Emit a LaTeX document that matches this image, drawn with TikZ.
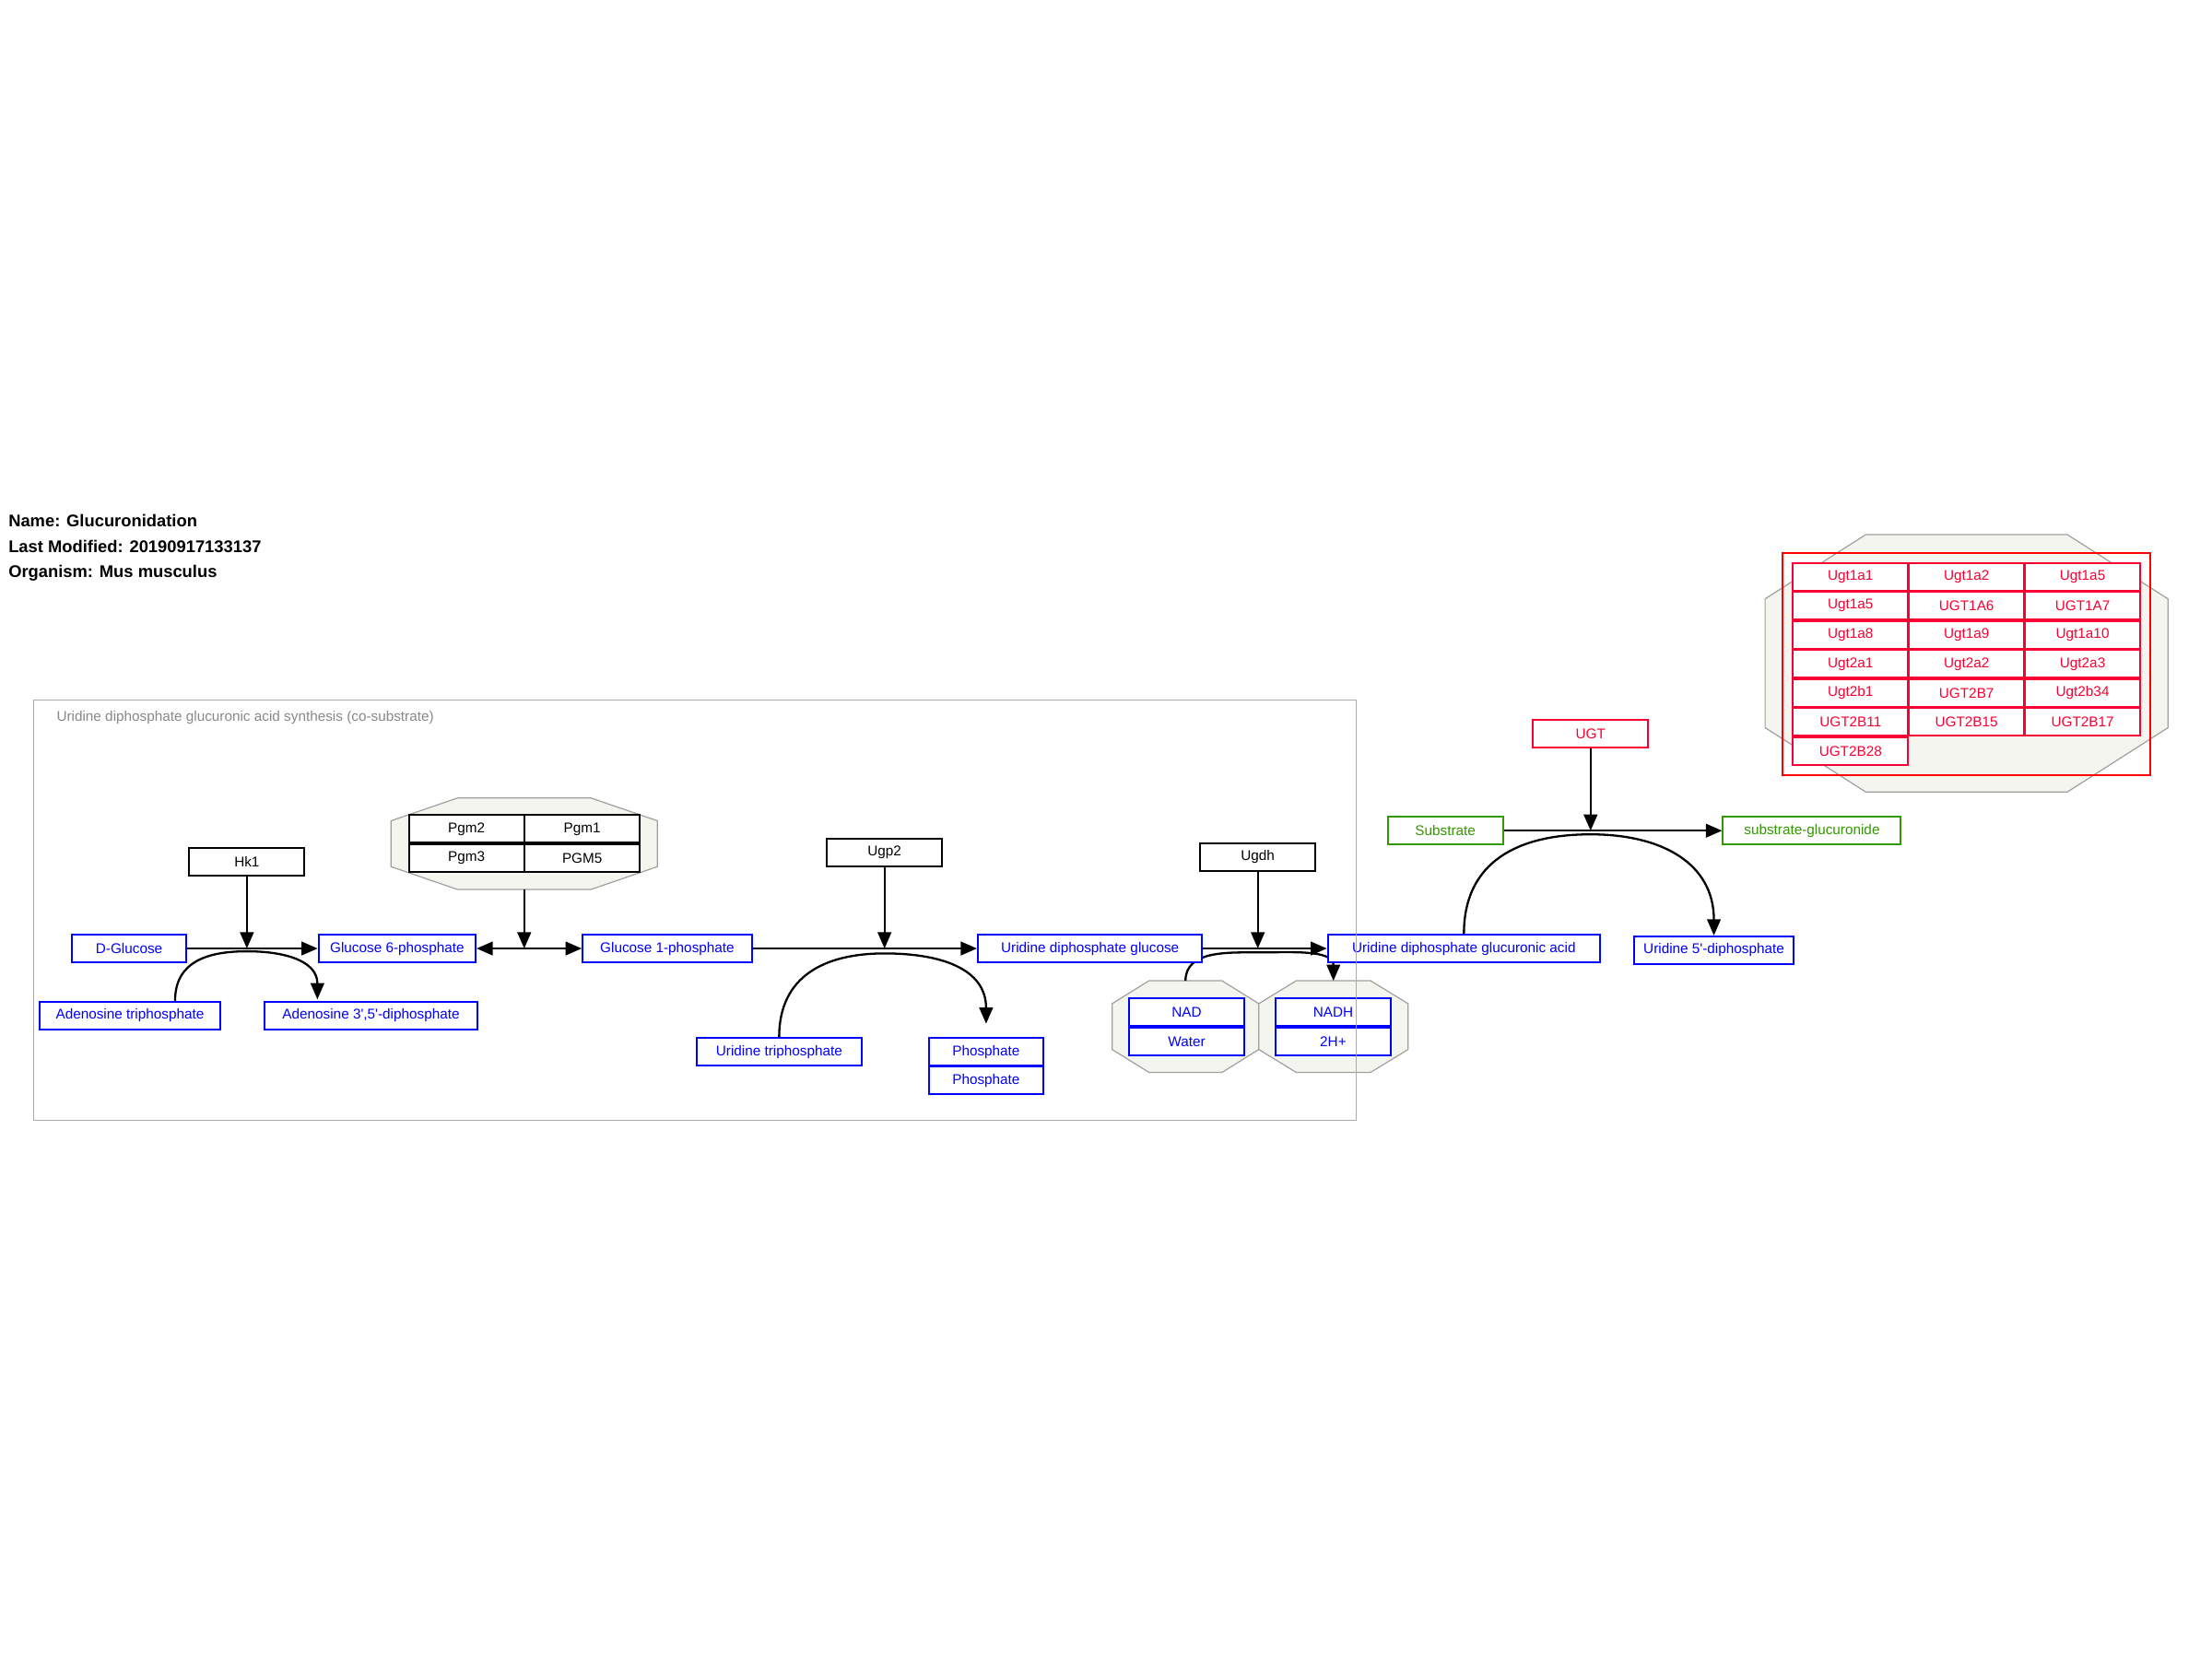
\documentclass[tikz,border=0pt]{standalone}
\usepackage{fontspec}
\setmainfont{Liberation Sans}
\usetikzlibrary{arrows.meta,backgrounds}
\definecolor{metblue}{RGB}{0,0,255}
\definecolor{subgreen}{RGB}{51,153,0}
\definecolor{ugtred}{RGB}{250,0,50}
\definecolor{cplxfill}{RGB}{245,245,239}
\definecolor{cplxline}{RGB}{160,160,160}
\definecolor{framegray}{RGB}{170,170,170}
\definecolor{labelgray}{RGB}{136,136,136}
\newcommand{\cplxoct}[3]{%
  \draw[cplx] ([xshift=#2]#1.north west) -- ([xshift=-#2]#1.north east)
    -- ([yshift=-#3]#1.north east) -- ([yshift=#3]#1.south east)
    -- ([xshift=-#2]#1.south east) -- ([xshift=#2]#1.south west)
    -- ([yshift=#3]#1.south west) -- ([yshift=-#3]#1.north west) -- cycle;}
\begin{document}
\begin{tikzpicture}[x=1pt, y=-1pt, line width=1.3pt,
  entity/.style = {draw, fill=white, inner sep=0pt, minimum width=81.5pt, minimum height=19.6pt, font=\fontsize{10}{12}\selectfont},
  metab/.style = {entity, draw=metblue, text=metblue},
  gene/.style = {entity, draw=black, text=black},
  subst/.style = {entity, draw=subgreen, text=subgreen},
  ugt/.style = {entity, draw=ugtred, text=ugtred},
  cplxarea/.style = {inner sep=0pt, outer sep=0pt},
  cplx/.style = {draw=cplxline, fill=cplxfill, line width=0.8pt},
  conv/.style = {line width=1.5pt, -{Triangle[length=11.5pt,width=9.6pt]}},
  bothconv/.style = {line width=1.5pt, {Triangle[length=11.5pt,width=9.6pt]}-{Triangle[length=11.5pt,width=9.6pt]}},
  info/.style = {anchor=west, inner sep=0pt, font=\bfseries\fontsize{12}{14}\selectfont}]
\useasboundingbox (0,0) rectangle (1568,1176);
\node[info] (name) at (5.4,369) {Name: Glucuronidation};
\node[info] (lastmod) at (5.4,387.5) {Last Modified: 20190917133137};
\node[info] (organism) at (5.4,406) {Organism: Mus musculus};
\node[metab] (dglc) at (91.5,672.3) {D-Glucose};
\node[metab, minimum width=111.3pt, node distance=190pt] (g6p) [right of=dglc] {Glucose 6-phosphate};
\node[metab, minimum width=120pt, node distance=191.5pt] (g1p) [right of=g6p] {Glucose 1-phosphate};
\node[metab, minimum width=159pt, node distance=299.7pt] (udpg) [right of=g1p] {Uridine diphosphate glucose};
\node[metab, minimum width=193pt, node distance=265pt] (udpga) [right of=udpg] {Uridine diphosphate glucuronic acid};
\node[metab, minimum width=112.6pt] (u5dp) at (1214.9,673.5) {Uridine 5\textquotesingle-diphosphate};
\node[metab, minimum width=127.6pt] (atp) at (92.1,719.8) {Adenosine triphosphate};
\node[metab, minimum width=150.5pt] (adp) at (263,719.8) {Adenosine 3\textquotesingle,5\textquotesingle-diphosphate};
\node[metab, minimum width=117.2pt] (utp) at (552.3,745.5) {Uridine triphosphate};
\node[metab] (phos1) at (699,745.5) {Phosphate};
\node[metab, node distance=20.5pt] (phos2) [below of=phos1] {Phosphate};
\node[gene] (hk1) at (175,610.6) {Hk1};
\node[gene] (ugp2) at (627,604.4) {Ugp2};
\node[gene] (ugdh) at (891.6,607.5) {Ugdh};
\node[cplxarea, minimum width=188.8pt, minimum height=64.9pt] (pgmcx) at (371.6,598.05) {};
\node[gene] (pgm2) at (330.7,587.6) {Pgm2};
\node[gene, node distance=82pt] (pgm1) [right of=pgm2] {Pgm1};
\node[gene, node distance=20.8pt] (pgm3) [below of=pgm2] {Pgm3};
\node[gene, node distance=82pt] (pgm5) [right of=pgm3] {PGM5};
\node[cplxarea, minimum width=103.9pt, minimum height=64.9pt] (nadcx) at (840.35,727.65) {};
\node[cplxarea, minimum width=105.8pt, minimum height=64.9pt] (nadhcx) at (945.2,727.65) {};
\node[metab] (nad) at (841.2,717.6) {NAD};
\node[metab, node distance=20.7pt] (water) [below of=nad] {Water};
\node[metab] (nadh) at (945,717.6) {NADH};
\node[metab, node distance=20.7pt] (hplus) [below of=nadh] {2H+};
\node[subst] (substrate) at (1024.5,588.8) {Substrate};
\node[subst, minimum width=126.1pt] (sglc) at (1284.4,588.8) {substrate-glucuronide};
\node[ugt] (ugt) at (1127.5,520) {UGT};
\node[cplxarea, minimum width=285.6pt, minimum height=182.5pt] (ugtcx) at (1394,470.15) {};
\node[cplxarea, draw=red, line width=1.4pt, minimum width=260.5pt, minimum height=157.5pt] (ugtgrp) at (1393.75,470.75) {};
\begin{scope}[node distance=82.25pt]
\node[ugt] (ugt1a1) at (1311.75,408.8) {Ugt1a1};
\node[ugt] (ugt1a2) [right of=ugt1a1] {Ugt1a2};
\node[ugt] (ugt1a5) [right of=ugt1a2] {Ugt1a5};
\node[ugt, node distance=20.6pt] (ugt1a5b) [below of=ugt1a1] {Ugt1a5};
\node[ugt] (ugt1a6) [right of=ugt1a5b] {UGT1A6};
\node[ugt] (ugt1a7) [right of=ugt1a6] {UGT1A7};
\node[ugt, node distance=20.6pt] (ugt1a8) [below of=ugt1a5b] {Ugt1a8};
\node[ugt] (ugt1a9) [right of=ugt1a8] {Ugt1a9};
\node[ugt] (ugt1a10) [right of=ugt1a9] {Ugt1a10};
\node[ugt, node distance=20.6pt] (ugt2a1) [below of=ugt1a8] {Ugt2a1};
\node[ugt] (ugt2a2) [right of=ugt2a1] {Ugt2a2};
\node[ugt] (ugt2a3) [right of=ugt2a2] {Ugt2a3};
\node[ugt, node distance=20.6pt] (ugt2b1) [below of=ugt2a1] {Ugt2b1};
\node[ugt] (ugt2b7) [right of=ugt2b1] {UGT2B7};
\node[ugt] (ugt2b34) [right of=ugt2b7] {Ugt2b34};
\node[ugt, node distance=20.6pt] (ugt2b11) [below of=ugt2b1] {UGT2B11};
\node[ugt] (ugt2b15) [right of=ugt2b11] {UGT2B15};
\node[ugt] (ugt2b17) [right of=ugt2b15] {UGT2B17};
\node[ugt, node distance=20.6pt] (ugt2b28) [below of=ugt2b11] {UGT2B28};
\end{scope}
\coordinate (hk1rx) at (175,672.3);
\coordinate (pgmrx) at (371.6,672.3);
\coordinate (ugp2rx) at (627,672.3);
\coordinate (ugdhrx) at (891.6,672.3);
\coordinate (ugtrx) at (1127.5,588.8);
\begin{pgfonlayer}{background}
\cplxoct{pgmcx}{47.2pt}{16.2pt}
\cplxoct{nadcx}{26pt}{16.2pt}
\cplxoct{nadhcx}{26.5pt}{16.2pt}
\cplxoct{ugtcx}{71.4pt}{45.6pt}
\draw[conv] (dglc.east) -- (g6p.west);
\draw[conv] (hk1.south) -- (hk1rx);
\draw[conv] ([xshift=32pt]atp.north) to[out=90,in=180,looseness=1.15] ([yshift=-2pt]hk1rx) to[out=0,in=90,looseness=1.15] ([xshift=-38pt,yshift=1pt]adp.north);
\draw[bothconv] (g6p.east) -- (g1p.west);
\draw[conv] (pgmcx.south) -- (pgmrx);
\draw[conv] (g1p.east) -- (udpg.west);
\draw[conv] (ugp2.south) -- (ugp2rx);
\draw[conv] (utp.north) to[out=90,in=180,looseness=1.15] ([yshift=-3.5pt]ugp2rx) to[out=0,in=90,looseness=1.15] ([yshift=9.4pt]phos1.north);
\draw[conv] (udpg.east) -- (udpga.west);
\draw[conv] (ugdh.south) -- (ugdhrx);
\draw[conv] (nadcx.north) to[out=90,in=180] ([yshift=-2.8pt]ugdhrx) to[out=0,in=90] (nadhcx.north);
\draw[conv] (substrate.east) -- (sglc.west);
\draw[conv] (ugt.south) -- (ugtrx);
\draw[conv] (udpga.north) to[out=90,in=180,looseness=1.15] ([yshift=-2.6pt]ugtrx) to[out=0,in=90,looseness=1.15] (u5dp.north);
\end{pgfonlayer}
\node[cplxarea, draw=framegray, minimum width=937pt, minimum height=298pt] (udpgasyn) at (492.5,645) {};
\node[anchor=west, inner sep=0pt, text=labelgray, font=\fontsize{10}{12}\selectfont] (synlabel) at ([xshift=16pt,yshift=-12.5pt]udpgasyn.north west) {Uridine diphosphate glucuronic acid synthesis (co-substrate)};
\end{tikzpicture}
\end{document}
